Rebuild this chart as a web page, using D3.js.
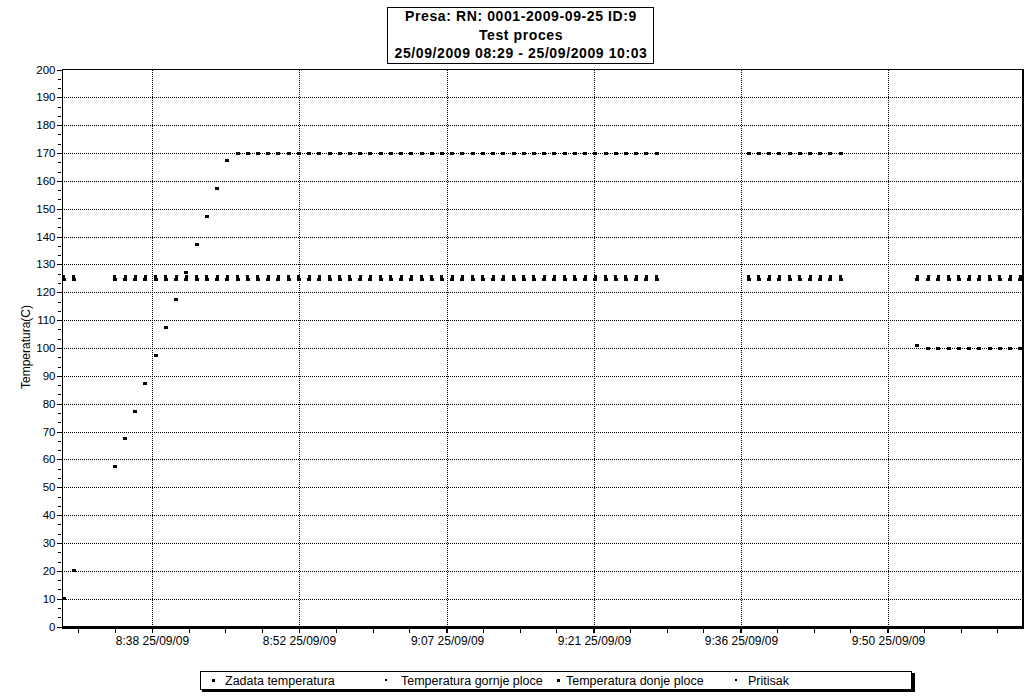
<!DOCTYPE html>
<html><head><meta charset="utf-8">
<script src="https://cdn.jsdelivr.net/npm/d3@7"></script>
<style>
body{margin:0;background:#fff;}
svg{display:block;font-family:"Liberation Sans",Arial,sans-serif;}
</style></head>
<body><svg id="c" width="1030" height="697"></svg>
<script>
// ---------- data ----------
const titleLines = ["Presa: RN: 0001-2009-09-25 ID:9", "Test proces", "25/09/2009 08:29 - 25/09/2009 10:03"];
const yLabel = "Temperatura(C)";
const timeDomain = ["08:29:00", "10:03:00"];
const xTickTimes = ["08:37:48", "08:52:11", "09:06:40", "09:21:02", "09:35:25", "09:49:48"];
const xTickLabels = ["8:38 25/09/09", "8:52 25/09/09", "9:07 25/09/09", "9:21 25/09/09", "9:36 25/09/09", "9:50 25/09/09"];
const yTicks = [0,10,20,30,40,50,60,70,80,90,100,110,120,130,140,150,160,170,180,190,200];
const seriesNames = ["Zadata temperatura", "Temperatura gornje ploce", "Temperatura donje ploce", "Pritisak"];

const sampleTimes = [
 "08:29:10","08:30:10",
 "08:34:10","08:35:10","08:36:10","08:37:10","08:38:10","08:39:10","08:40:10","08:41:10","08:42:10","08:43:10",
 "08:44:10","08:45:10","08:46:10","08:47:10","08:48:10","08:49:10","08:50:10","08:51:10","08:52:10","08:53:10",
 "08:54:10","08:55:10","08:56:10","08:57:10","08:58:10","08:59:10","09:00:10","09:01:10","09:02:10","09:03:10",
 "09:04:10","09:05:10","09:06:10","09:07:10","09:08:10","09:09:10","09:10:10","09:11:10","09:12:10","09:13:10",
 "09:14:10","09:15:10","09:16:10","09:17:10","09:18:10","09:19:10","09:20:10","09:21:10","09:22:10","09:23:10",
 "09:24:10","09:25:10","09:26:10","09:27:10",
 "09:36:10","09:37:10","09:38:10","09:39:10","09:40:10","09:41:10","09:42:10","09:43:10","09:44:10","09:45:10",
 "09:52:40","09:53:44","09:54:44","09:55:44","09:56:44","09:57:44","09:58:44","09:59:44","10:00:44","10:01:44","10:02:44"
];
const zadata = [
 10, 20,
 57.5, 67.5, 77.3, 87.3, 97.3, 107.5, 117.4, 127.2, 137.2, 147.2,
 157.2, 167.2, 170, 170, 170, 170, 170, 170, 170, 170,
 170, 170, 170, 170, 170, 170, 170, 170, 170, 170,
 170, 170, 170, 170, 170, 170, 170, 170, 170, 170,
 170, 170, 170, 170, 170, 170, 170, 170, 170, 170,
 170, 170, 170, 170,
 170, 170, 170, 170, 170, 170, 170, 170, 170, 170,
 101, 100, 100, 100, 100, 100, 100, 100, 100, 100, 100
];
const gornje = [
 125.7, 125.7,
 125.7, 125.7, 125.7, 125.7, 125.7, 125.7, 125.7, 125.7, 125.7, 125.7,
 125.7, 125.7, 125.7, 125.7, 125.7, 125.7, 125.7, 125.7, 125.7, 125.7,
 125.7, 125.7, 125.7, 125.7, 125.7, 125.7, 125.7, 125.7, 125.7, 125.7,
 125.7, 125.7, 125.7, 125.7, 125.7, 125.7, 125.7, 125.7, 125.7, 125.7,
 125.7, 125.7, 125.7, 125.7, 125.7, 125.7, 125.7, 125.7, 125.7, 125.7,
 125.7, 125.7, 125.7, 125.7,
 125.7, 125.7, 125.7, 125.7, 125.7, 125.7, 125.7, 125.7, 125.7, 125.7,
 125.7, 125.7, 125.7, 125.7, 125.7, 125.7, 125.7, 125.7, 125.7, 125.7, 125.7
];
const donje = [
 124.6, 124.6,
 124.6, 124.6, 124.6, 124.6, 124.6, 124.6, 124.6, 124.6, 124.6, 124.6,
 124.6, 124.6, 124.6, 124.6, 124.6, 124.6, 124.6, 124.6, 124.6, 124.6,
 124.6, 124.6, 124.6, 124.6, 124.6, 124.6, 124.6, 124.6, 124.6, 124.6,
 124.6, 124.6, 124.6, 124.6, 124.6, 124.6, 124.6, 124.6, 124.6, 124.6,
 124.6, 124.6, 124.6, 124.6, 124.6, 124.6, 124.6, 124.6, 124.6, 124.6,
 124.6, 124.6, 124.6, 124.6,
 124.6, 124.6, 124.6, 124.6, 124.6, 124.6, 124.6, 124.6, 124.6, 124.6,
 124.6, 124.6, 124.6, 124.6, 124.6, 124.6, 124.6, 124.6, 124.6, 124.6, 124.6
];
const pritisak = [];

// ---------- chart ----------
const parse = d3.timeParse("%H:%M:%S");
const svg = d3.select("#c");
const L = 62, R = 1023, T = 69.5, B = 626.5;

const x = d3.scaleTime().domain(timeDomain.map(parse)).range([L, R]);
const y = d3.scaleLinear().domain([0, 200]).range([B, T]);

// gridlines
const grid = svg.append("g").attr("stroke", "#000").attr("stroke-width", 1)
  .attr("stroke-dasharray", "1,1").attr("shape-rendering", "crispEdges");
grid.selectAll("line.h").data(yTicks.filter(v => v > 0 && v < 200)).enter().append("line")
  .attr("x1", L).attr("x2", R).attr("y1", d => Math.round(y(d)) + 0.5).attr("y2", d => Math.round(y(d)) + 0.5);
grid.selectAll("line.v").data(xTickTimes).enter().append("line")
  .attr("x1", d => Math.round(x(parse(d))) + 0.5).attr("x2", d => Math.round(x(parse(d))) + 0.5)
  .attr("y1", T).attr("y2", B);

// frame
svg.append("line").attr("x1", L).attr("x2", R).attr("y1", 69.5).attr("y2", 69.5)
  .attr("stroke", "#000").attr("shape-rendering", "crispEdges");
svg.append("line").attr("x1", 1023).attr("x2", 1023).attr("y1", 69).attr("y2", 628)
  .attr("stroke", "#000").attr("stroke-width", 2).attr("shape-rendering", "crispEdges");

// y axis
const yAxis = d3.axisLeft(y).tickValues(yTicks).tickSize(6).tickPadding(1).tickFormat(d3.format("d"));
const gy = svg.append("g").attr("transform", `translate(${L + 0.5},0)`).call(yAxis);
gy.select(".domain").remove();
gy.selectAll(".tick line").attr("stroke", "#000").attr("shape-rendering", "crispEdges");
gy.selectAll(".tick").attr("transform", d => `translate(0,${Math.round(y(d)) + 0.5})`);
gy.selectAll("text").attr("font-size", 11.5).attr("font-family", "Liberation Sans, Arial").attr("fill", "#000");
svg.append("line").attr("x1", L + 0.5).attr("x2", L + 0.5).attr("y1", T).attr("y2", B + 1)
  .attr("stroke", "#000").attr("shape-rendering", "crispEdges");
// minor y ticks
const minorY = d3.range(0, 200, 10 / 3).filter(v => Math.abs(v / 10 - Math.round(v / 10)) > 0.01);
svg.append("g").selectAll("line").data(minorY).enter().append("line")
  .attr("x1", L - 4).attr("x2", L - 1)
  .attr("y1", d => Math.round(y(d)) + 0.5).attr("y2", d => Math.round(y(d)) + 0.5)
  .attr("stroke", "#000").attr("shape-rendering", "crispEdges");

// x axis
const xAxis = d3.axisBottom(x).tickValues(xTickTimes.map(parse)).tickSize(5).tickPadding(4)
  .tickFormat((d, i) => xTickLabels[i]);
const gx = svg.append("g").attr("transform", `translate(0,${B + 1})`).call(xAxis);
gx.select(".domain").remove();
gx.selectAll(".tick line").attr("stroke", "#000").attr("shape-rendering", "crispEdges");
gx.selectAll("text").attr("font-size", 12).attr("font-family", "Liberation Sans, Arial").attr("fill", "#000");
// minor x ticks (quarters between majors)
const t0 = parse(xTickTimes[0]).getTime(), t1 = parse(xTickTimes[1]).getTime();
const step = (t1 - t0) / 4;
const minorX = [];
for (let t = t0 - 2 * step; x(new Date(t)) < R; t += step) {
  if (x(new Date(t)) > L) minorX.push(new Date(t));
}
svg.append("g").selectAll("line").data(minorX).enter().append("line")
  .attr("x1", d => Math.round(x(d)) + 0.5).attr("x2", d => Math.round(x(d)) + 0.5)
  .attr("y1", B + 1).attr("y2", B + 6)
  .attr("stroke", "#000").attr("shape-rendering", "crispEdges");
// thick bottom axis
svg.append("rect").attr("x", L).attr("y", B - 0.5).attr("width", R - L + 1).attr("height", 3).attr("fill", "#000");

// y label
svg.append("text").attr("transform", `translate(30,347) rotate(-90)`)
  .attr("text-anchor", "middle").attr("font-size", 12).text(yLabel);

// data
const plot = svg.append("g").attr("shape-rendering", "crispEdges");
function drawSeries(vals, w, h) {
  plot.append("g").selectAll("rect").data(vals.map((v, i) => [sampleTimes[i], v]))
    .enter().append("rect")
    .attr("x", d => Math.round(x(parse(d[0])) - w / 2))
    .attr("y", d => Math.round(y(d[1]) - h / 2))
    .attr("width", w).attr("height", h).attr("fill", "#000");
}
drawSeries(gornje, 3, 3);
drawSeries(donje, 4, 3);
drawSeries(zadata, 4, 3);
drawSeries(pritisak, 2, 2);

// title box
svg.append("rect").attr("x", 387.5).attr("y", 7.5).attr("width", 266).attr("height", 56)
  .attr("fill", "#fff").attr("stroke", "#000");
svg.append("g").selectAll("text").data(titleLines).enter().append("text")
  .attr("x", 521).attr("y", (d, i) => 21 + i * 18.5).attr("text-anchor", "middle")
  .attr("font-size", 14).attr("letter-spacing", 0.6).attr("font-weight", "bold").text(d => d);

// legend
svg.append("rect").attr("x", 202).attr("y", 673).attr("width", 713).attr("height", 19).attr("fill", "#000");
svg.append("rect").attr("x", 200.5).attr("y", 671.5).attr("width", 711).attr("height", 18)
  .attr("fill", "#fff").attr("stroke", "#000");
const legX = [213, 386, 558, 736];
const legTX = [225, 401, 566, 748];
const legSize = [3, 2, 3, 2];
const lg = svg.append("g");
seriesNames.forEach((n, i) => {
  lg.append("rect").attr("x", legX[i] - Math.floor(legSize[i] / 2)).attr("y", 680 - Math.floor(legSize[i] / 2))
    .attr("width", legSize[i]).attr("height", legSize[i]).attr("fill", "#000");
  lg.append("text").attr("x", legTX[i]).attr("y", 685).attr("font-size", 12.5).text(n);
});
</script></body></html>
